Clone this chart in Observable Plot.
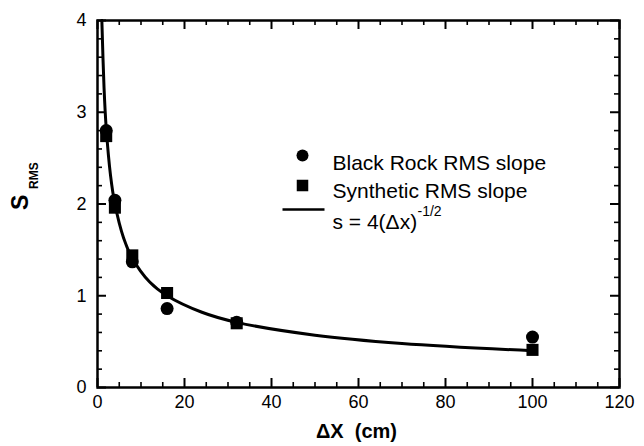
<!DOCTYPE html>
<html><head><meta charset="utf-8">
<script src="https://cdn.jsdelivr.net/npm/d3@7"></script>
<script src="https://cdn.jsdelivr.net/npm/@observablehq/plot@0.6"></script>
<style>body{margin:0;background:#fff} #chart{position:relative;width:644px;height:446px} #chart svg{position:absolute;left:0;top:0}</style>
</head><body><div id="chart"></div>
<script>
// Data
const spacing = [2, 4, 8, 16, 32, 100];
const blackRock = [2.80, 2.04, 1.37, 0.86, 0.71, 0.55];
const synthetic = [2.74, 1.96, 1.44, 1.03, 0.70, 0.41];
// Fit curve s = 4(Δx)^-1/2
const fitX = [1, 1.5, 2, 3, 4, 6, 8, 12, 16, 24, 32, 50, 70, 100];
const fitY = [4.0, 3.27, 2.83, 2.31, 2.0, 1.63, 1.41, 1.15, 1.0, 0.82, 0.71, 0.57, 0.48, 0.40];
const xTicks = [0, 20, 40, 60, 80, 100, 120];
const yTicks = [0, 1, 2, 3, 4];
const legendLabels = ["Black Rock RMS slope", "Synthetic RMS slope", "s = 4(Δx)"];

const black = spacing.map((x, i) => ({x, y: blackRock[i]}));
const synth = spacing.map((x, i) => ({x, y: synthetic[i]}));
const fit = fitX.map((x, i) => ({x, y: fitY[i]}));

const xMinor = d3.range(0, 121, 5).filter(v => v % 20 !== 0);
const yMinor = d3.range(1, 20).filter(v => v % 5 !== 0).map(v => v / 5);

const lineSymbol = {draw(ctx, size) { ctx.moveTo(-21, 0); ctx.lineTo(21, 0); }};

const W = 644, H = 446;
const ML = 97, MR = 25, MT = 20, MB = 59;
const FW = W - ML - MR, FH = H - MT - MB;
const MAJ = 9, MIN = 5;
const base = {
  width: W, height: H,
  marginLeft: ML, marginRight: MR, marginTop: MT, marginBottom: MB,
  x: {domain: [0, 120], label: null, axis: null},
  y: {domain: [0, 4], label: null, axis: null}
};

const chart = Plot.plot({
  ...base,
  style: {fontFamily: "'Liberation Sans', Arial, Helvetica, sans-serif", fontSize: "18px", color: "black", background: "white"},
  marks: [
    Plot.frame({stroke: "black", fill: "none", strokeWidth: 2.5}),
    Plot.axisX({ticks: xTicks, tickSize: 0, tickPadding: 8, tickFormat: d3.format("d"), label: null, fontSize: 18}),
    Plot.axisY({ticks: yTicks, tickSize: 0, tickPadding: 11, tickFormat: d3.format("d"), label: null, fontSize: 18}),
    Plot.line(fit, {x: "x", y: "y", stroke: "black", strokeWidth: 3, curve: "catmull-rom"}),
    Plot.dot(synth, {x: "x", y: "y", symbol: "square", r: 6.8, fill: "black"}),
    Plot.dot(black, {x: "x", y: "y", symbol: "circle", r: 6.5, fill: "black"}),
    Plot.text(["ΔX  (cm)"], {frameAnchor: "bottom", dx: -2, dy: 50, fontWeight: "bold", fontSize: 20}),
    Plot.text(["S"], {frameAnchor: "left", dx: -77, dy: 6, rotate: -90, fontWeight: "bold", fontSize: 23}),
    Plot.text(["RMS"], {frameAnchor: "left", dx: -63, dy: -15, rotate: -90, fontWeight: "bold", fontSize: 12}),
    Plot.dot([0], {frameAnchor: "top-left", dx: 205, dy: 135, r: 6, symbol: "circle", fill: "black"}),
    Plot.dot([0], {frameAnchor: "top-left", dx: 205, dy: 165, r: 6.5, symbol: "square", fill: "black"}),
    Plot.dot([0], {frameAnchor: "top-left", dx: 206, dy: 189, symbol: lineSymbol, stroke: "black", strokeWidth: 2.5, fill: "none"}),
    Plot.text([legendLabels[0]], {frameAnchor: "top-left", dx: 235, dy: 135, textAnchor: "start", fontSize: 21}),
    Plot.text([legendLabels[1]], {frameAnchor: "top-left", dx: 235, dy: 163, textAnchor: "start", fontSize: 21}),
    Plot.text([legendLabels[2]], {frameAnchor: "top-left", dx: 235, dy: 194, textAnchor: "start", fontSize: 21}),
    Plot.text(["-1/2"], {frameAnchor: "top-left", dx: 320, dy: 186, textAnchor: "start", fontSize: 14})
  ]
});

// inward tick marks on all four sides, same scales, overlaid
const tickLayer = Plot.plot({
  ...base,
  style: {background: "transparent"},
  marks: [
    Plot.ruleX(xTicks, {x: d => d, insetTop: FH - MAJ, stroke: "black", strokeWidth: 2}),
    Plot.ruleX(xTicks, {x: d => d, insetBottom: FH - MAJ, stroke: "black", strokeWidth: 2}),
    Plot.ruleX(xMinor, {x: d => d, insetTop: FH - MIN, stroke: "black", strokeWidth: 1.6}),
    Plot.ruleX(xMinor, {x: d => d, insetBottom: FH - MIN, stroke: "black", strokeWidth: 1.6}),
    Plot.ruleY(yTicks, {y: d => d, insetRight: FW - MAJ, stroke: "black", strokeWidth: 2}),
    Plot.ruleY(yTicks, {y: d => d, insetLeft: FW - MAJ, stroke: "black", strokeWidth: 2}),
    Plot.ruleY(yMinor, {y: d => d, insetRight: FW - MIN, stroke: "black", strokeWidth: 1.6}),
    Plot.ruleY(yMinor, {y: d => d, insetLeft: FW - MIN, stroke: "black", strokeWidth: 1.6})
  ]
});
document.getElementById("chart").appendChild(chart);
document.getElementById("chart").appendChild(tickLayer);
</script>
</body></html>
